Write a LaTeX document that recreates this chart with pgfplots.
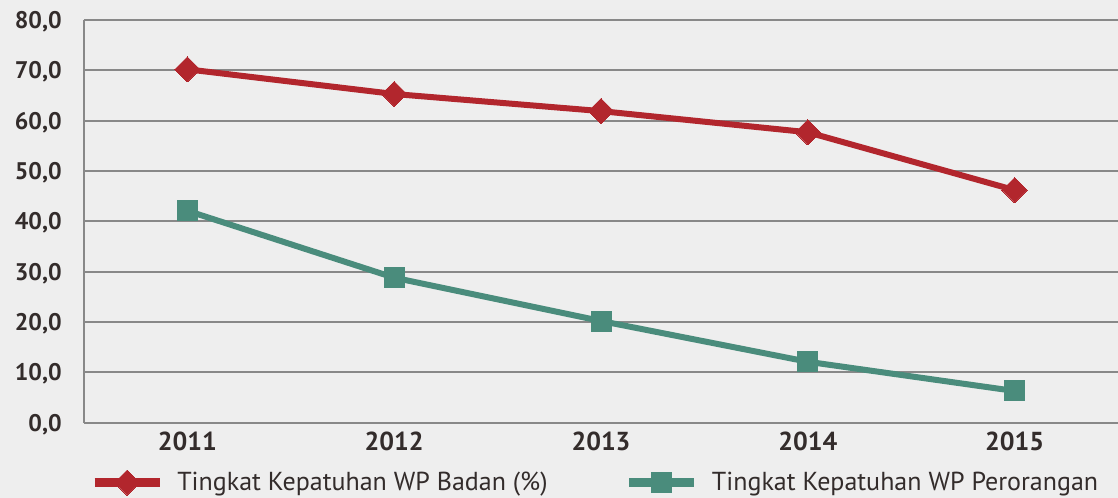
\documentclass[border=0pt]{standalone}
\usepackage{fontspec}
\setmainfont{PT Sans}
\usepackage{pgfplots}
\pgfplotsset{compat=1.18}
\definecolor{bgc}{HTML}{EEEEEE}
\definecolor{gridc}{HTML}{888888}
\definecolor{badan}{HTML}{B2262D}
\definecolor{orang}{HTML}{4A8C7C}
\definecolor{txt}{HTML}{332C2B}

\begin{document}
\begin{tikzpicture}
\path[use as bounding box, fill=bgc] (-63pt,-56.25pt) rectangle (775.5pt,317pt);
\begin{axis}[
    at={(0pt,0pt)}, anchor=south west,
    scale only axis,
    width=775.5pt, height=302pt,
    xmin=2010.5, xmax=2015.5,
    ymin=0, ymax=80,
    xtick={2011,2012,2013,2014,2015},
    xticklabels={2011,2012,2013,2014,2015},
    ytick={0,10,...,80},
    major tick length=0pt,
    axis x line*=bottom,
    axis y line*=left,
    axis line style={draw=gridc, line width=1.5pt, -},
    x axis line style={draw=none},
    ymajorgrids=true,
    major grid style={draw=gridc, line width=1.5pt},
    /pgf/number format/assume math mode=true,
    yticklabel style={font=\fontsize{18}{20}\selectfont\bfseries, text=txt,
        anchor=base east, inner sep=0pt, xshift=-16.5pt, yshift=-6.4pt,
        /pgf/number format/.cd, fixed, fixed zerofill, precision=1, use comma},
    xticklabel style={font=\fontsize{19.5}{22}\selectfont\bfseries, text=txt,
        anchor=north, inner sep=0pt, yshift=-6.5pt},
    legend columns=2,
    legend style={at={(0.0058,-0.149)}, anchor=west, draw=none, fill=none,
        inner sep=0pt, font=\fontsize{19.5}{22}\selectfont, text=txt,
        nodes={inner sep=0pt},
        /tikz/every odd column/.append style={column sep=10pt},
        /tikz/every even column/.append style={column sep=58pt}},
    legend image code/.code={
        \draw[#1, line width=6.5pt, mark repeat=2, mark phase=2]
        plot coordinates {(0pt,0pt) (24.4pt,0pt) (48.75pt,0pt)};},
    clip=false,
]
\addplot[color=badan, line width=4.5pt, mark=square*,
    mark options={rotate=45, line width=0pt, solid}, mark size=6.7pt]
    coordinates {(2011,70.2) (2012,65.3) (2013,61.9) (2014,57.7) (2015,46.2)};
\addlegendentry{Tingkat Kepatuhan WP Badan (\%)}
\addplot[color=orang, line width=4.5pt, mark=square*,
    mark options={line width=0pt, solid}, mark size=7.5pt]
    coordinates {(2011,42.1) (2012,28.8) (2013,20.2) (2014,12.1) (2015,6.3)};
\addlegendentry{Tingkat Kepatuhan WP Perorangan}
\end{axis}
\end{tikzpicture}
\end{document}
